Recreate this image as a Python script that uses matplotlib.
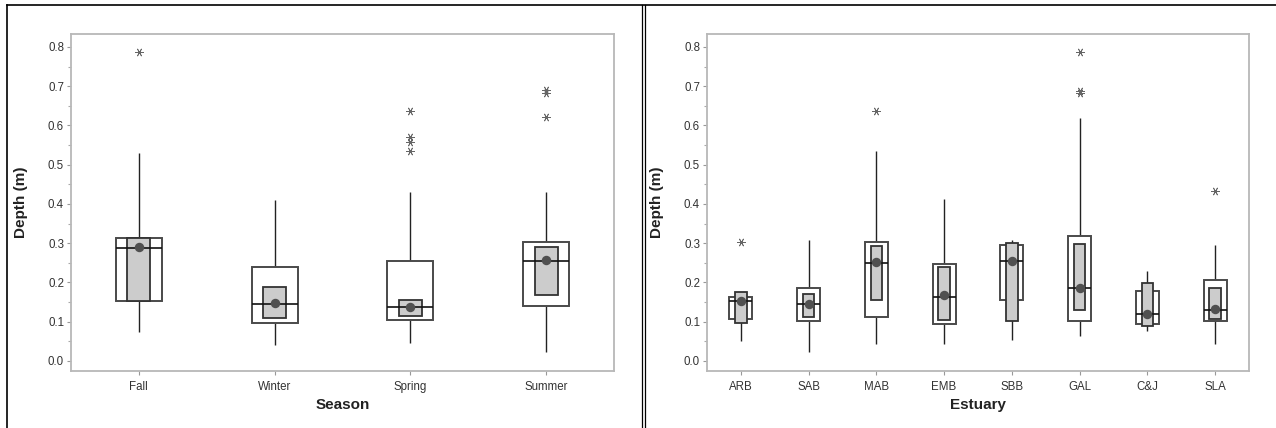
import numpy as np
import matplotlib
matplotlib.use("Agg")
import matplotlib.pyplot as plt
from matplotlib.lines import Line2D

plt.rcParams['font.family'] = ['Liberation Sans', 'DejaVu Sans']

# ---- Season panel ----
seasons = ["Fall", "Winter", "Spring", "Summer"]
s_q1 = [0.153, 0.096, 0.104, 0.141]
s_q3 = [0.314, 0.239, 0.255, 0.303]
s_med = [0.289, 0.146, 0.137, 0.255]
s_cilo = [0.153, 0.109, 0.114, 0.167]
s_cihi = [0.314, 0.189, 0.155, 0.290]
s_mean = [0.291, 0.147, 0.138, 0.257]
s_wlo = [0.075, 0.042, 0.045, 0.022]
s_whi = [0.531, 0.411, 0.430, 0.430]
s_out = [[0.786], [], [0.637, 0.571, 0.559, 0.536], [0.690, 0.682, 0.622]]

# ---- Estuary panel ----
estuaries = ["ARB", "SAB", "MAB", "EMB", "SBB", "GAL", "C&J", "SLA"]
e_q1 = [0.106, 0.102, 0.112, 0.095, 0.155, 0.102, 0.094, 0.102]
e_q3 = [0.162, 0.187, 0.302, 0.246, 0.295, 0.318, 0.178, 0.206]
e_med = [0.153, 0.144, 0.249, 0.163, 0.255, 0.187, 0.119, 0.129]
e_cilo = [0.098, 0.111, 0.155, 0.105, 0.102, 0.130, 0.089, 0.107]
e_cihi = [0.175, 0.170, 0.294, 0.240, 0.300, 0.297, 0.198, 0.185]
e_mean = [0.153, 0.144, 0.253, 0.167, 0.255, 0.187, 0.119, 0.133]
e_wlo = [0.052, 0.022, 0.044, 0.043, 0.054, 0.064, 0.077, 0.043]
e_whi = [0.170, 0.307, 0.535, 0.412, 0.308, 0.618, 0.229, 0.296]
e_out = [[0.302], [], [0.637], [], [], [0.786, 0.688, 0.682], [], [0.433]]

W = 1276
H = 428
fig = plt.figure(figsize=(W / 100, H / 100), dpi=100)


def draw_panel(ax, cats, q1, q3, med, cilo, cihi, mean, wlo, whi, outs, xlab):
    x = np.arange(len(cats))
    q1 = np.array(q1); q3 = np.array(q3)
    cilo = np.array(cilo); cihi = np.array(cihi)
    ax.vlines(x, q3, whi, color='#222222', lw=1.0, zorder=1)
    ax.vlines(x, wlo, q1, color='#222222', lw=1.0, zorder=1)
    ax.bar(x, q3 - q1, bottom=q1, width=0.34, color='white',
           edgecolor='#4a4a4a', lw=1.4, zorder=2)
    ax.bar(x, cihi - cilo, bottom=cilo, width=0.17, color='#cccccc',
           edgecolor='#333333', lw=1.3, zorder=3)
    ax.hlines(med, x - 0.17, x + 0.17, color='#111111', lw=1.2, zorder=4)
    ax.plot(x, mean, 'o', color='#505050', ms=6.8, mew=0, zorder=5)
    for xi, o in zip(x, outs):
        if o:
            ax.plot([xi] * len(o), o, ls='', marker=(6, 2, 90), color='#666666',
                    ms=6, mew=0.6, zorder=5)
    ax.set_xlim(-0.5, len(cats) - 0.5)
    ax.set_ylim(-0.0255, 0.833)
    ax.set_yticks(np.arange(0, 0.81, 0.1))
    ax.set_yticks(np.arange(0.05, 0.81, 0.1), minor=True)
    ax.set_yticklabels(["%.1f" % v for v in np.arange(0, 0.81, 0.1)])
    ax.set_xticks(x)
    ax.set_xticklabels(cats)
    for s in ax.spines.values():
        s.set_color('#b8b8b8')
        s.set_linewidth(1.3)
    ax.tick_params(axis='both', which='major', length=3, width=0.8,
                   color='#999999', labelcolor='#333333', labelsize=8.3)
    ax.tick_params(axis='y', which='minor', length=2, width=0.8, color='#aaaaaa')
    ax.tick_params(axis='y', pad=2)
    ax.tick_params(axis='x', pad=4)
    ax.set_ylabel("Depth (m)", fontsize=11, fontweight='bold', color='#222222')
    ax.set_xlabel(xlab, fontsize=11, fontweight='bold', color='#222222')
    ax.yaxis.set_label_coords(-0.079, 0.5)
    ax.xaxis.set_label_coords(0.5, -0.08)


ax1 = fig.add_axes([71 / W, 1 - 371 / H, 543 / W, 337 / H])
draw_panel(ax1, seasons, s_q1, s_q3, s_med, s_cilo, s_cihi, s_mean,
           s_wlo, s_whi, s_out, "Season")

ax2 = fig.add_axes([707 / W, 1 - 371 / H, 542 / W, 337 / H])
draw_panel(ax2, estuaries, e_q1, e_q3, e_med, e_cilo, e_cihi, e_mean,
           e_wlo, e_whi, e_out, "Estuary")

# outer frame lines (table-cell style)
fig.add_artist(Line2D([7 / W, 1], [1 - 4.5 / H, 1 - 4.5 / H], color='black', lw=1.2,
                      transform=fig.transFigure))
fig.add_artist(Line2D([7 / W, 7 / W], [0, 1 - 4.5 / H], color='black', lw=1.2,
                      transform=fig.transFigure))
for xv in (642, 644.5):
    fig.add_artist(Line2D([xv / W, xv / W], [0, 1 - 4.5 / H], color='black', lw=0.9,
                          transform=fig.transFigure))

fig.savefig("out.png", dpi=100)
